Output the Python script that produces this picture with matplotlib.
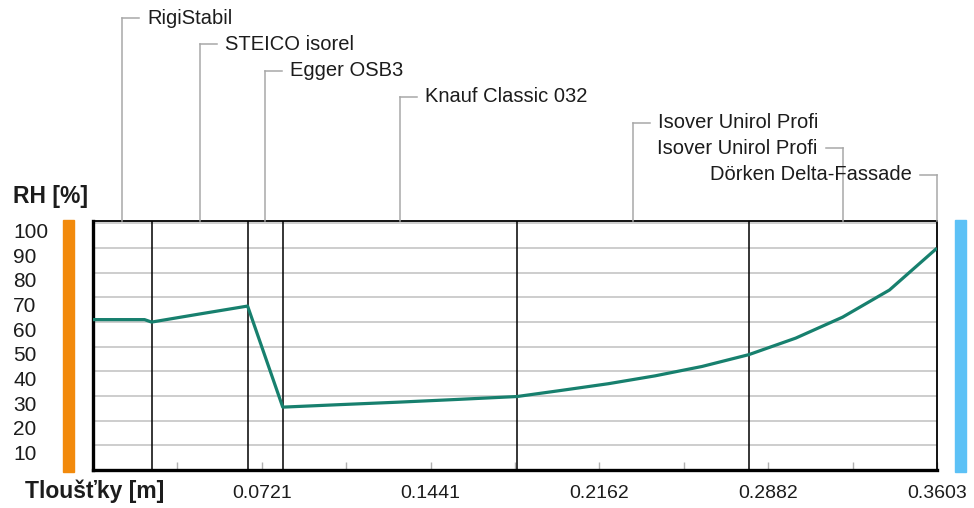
import matplotlib
matplotlib.use("Agg")
import matplotlib.pyplot as plt
from matplotlib.lines import Line2D
from matplotlib.patches import Rectangle
from matplotlib.transforms import ScaledTranslation, IdentityTransform

# ---------------- data ----------------
layer_names = ["RigiStabil", "STEICO isorel", "Egger OSB3", "Knauf Classic 032",
               "Isover Unirol Profi", "Isover Unirol Profi", "Dörken Delta-Fassade"]
layer_thickness = [0.025, 0.041, 0.015, 0.100, 0.099, 0.080, 0.0003]

depth = [0.0, 0.022, 0.025, 0.045, 0.066, 0.081, 0.105, 0.130, 0.155, 0.181,
         0.200, 0.220, 0.240, 0.260, 0.280, 0.300, 0.320, 0.340, 0.3597, 0.3603]
rh = [61.0, 61.0, 60.0, 63.2, 66.5, 25.5, 26.5, 27.5, 28.6, 29.8,
      32.3, 35.0, 38.2, 42.0, 46.8, 53.5, 62.0, 73.0, 89.5, 90.0]

x_tick_values = [0.0721, 0.1441, 0.2162, 0.2882, 0.3603]
x_tick_labels = ["0.0721", "0.1441", "0.2162", "0.2882", "0.3603"]
x_minor_values = [0.0360, 0.1081, 0.1802, 0.2522, 0.3243]
y_tick_values = [10, 20, 30, 40, 50, 60, 70, 80, 90, 100]
y_tick_labels = ["10", "20", "30", "40", "50", "60", "70", "80", "90", "100"]

y_title = "RH [%]"
x_title = "Tloušťky [m]"

# ---------------- layout ----------------
W, H = 974, 508
FONT = "Liberation Sans"
TXT = "#1c1c1c"
GRID = "#c9c9c9"
LEAD = "#a8a8a8"
CURVE = "#17806e"

fig = plt.figure(figsize=(W / 100, H / 100), dpi=100)
fig.patch.set_facecolor("white")

def fx(px):
    return px / W

def fy(py):
    return 1 - py / H

ax_l, ax_r, ax_t, ax_b = 93, 937, 221, 470
ax = fig.add_axes([fx(ax_l), fy(ax_b), (ax_r - ax_l) / W, (ax_b - ax_t) / H])

total = sum(layer_thickness)
ax.set_xlim(0, total)
ax.set_ylim(0, 101)

# grid
ax.set_yticks(y_tick_values)
ax.set_yticklabels(y_tick_labels, fontfamily=FONT, fontsize=15, color=TXT)
ax.yaxis.grid(True, color=GRID, lw=1.3)
ax.set_axisbelow(True)
ax.tick_params(axis="y", length=0, pad=(ax_l - 13) * 0.72)
offset_y = ScaledTranslation(0, -7 / 100, fig.dpi_scale_trans)
for lab in ax.get_yticklabels():
    lab.set_horizontalalignment("left")
    lab.set_transform(lab.get_transform() + offset_y)

ax.set_xticks(x_tick_values)
ax.set_xticklabels(x_tick_labels, fontfamily=FONT, fontsize=14, color=TXT)
ax.set_xticks(x_minor_values, minor=True)
ax.tick_params(axis="x", which="both", direction="in", length=6, width=1,
               color="#b0b0b0", pad=11)

# spines
for side in ["left", "bottom"]:
    ax.spines[side].set_linewidth(2.4)
    ax.spines[side].set_color("black")
for side in ["top", "right"]:
    ax.spines[side].set_linewidth(1.3)
    ax.spines[side].set_color("black")

# layer boundaries
bounds = [0.0]
for t in layer_thickness:
    bounds.append(bounds[-1] + t)
for b in bounds[1:-2]:
    ax.axvline(b, color="black", lw=1.1, zorder=2)

# curve
ax.plot(depth, rh, color=CURVE, lw=2.3, zorder=3, solid_capstyle="butt")

# side bars
fig.patches.append(Rectangle((fx(63), fy(472)), fx(11), (472 - 220) / H,
                             transform=fig.transFigure, color="#f28a0c", zorder=0))
fig.patches.append(Rectangle((fx(955), fy(472)), fx(11), (472 - 220) / H,
                             transform=fig.transFigure, color="#5cc1f6", zorder=0))

# titles
fig.text(fx(13), fy(196), y_title, fontfamily=FONT, fontsize=16.5, fontweight="bold",
         color=TXT, ha="left", va="center")
fig.text(fx(25), fy(491), x_title, fontfamily=FONT, fontsize=16.5, fontweight="bold",
         color=TXT, ha="left", va="center")

# leader lines with layer names
levels = [18, 44, 71, 97, 123, 148, 175]
directions = [1, 1, 1, 1, 1, -1, -1]
fig.canvas.draw()
ident = IdentityTransform()
for i, name in enumerate(layer_names):
    mid = (bounds[i] + bounds[i + 1]) / 2
    xd = ax.transData.transform((mid, 0))[0]
    if i == len(layer_names) - 1:
        xd = ax.transData.transform((total, 0))[0]
    ytop_d = H - ax_t
    ylev_d = H - levels[i]
    fig.add_artist(Line2D([xd, xd], [ytop_d, ylev_d], transform=ident,
                          color=LEAD, lw=1.1))
    d = directions[i]
    fig.add_artist(Line2D([xd, xd + d * 17], [ylev_d, ylev_d], transform=ident,
                          color=LEAD, lw=1.1))
    fig.text((xd + d * 25) / W, ylev_d / H, name, fontfamily=FONT, fontsize=14.5,
             color=TXT, ha="left" if d > 0 else "right", va="center")

fig.savefig("out.png", dpi=100)
